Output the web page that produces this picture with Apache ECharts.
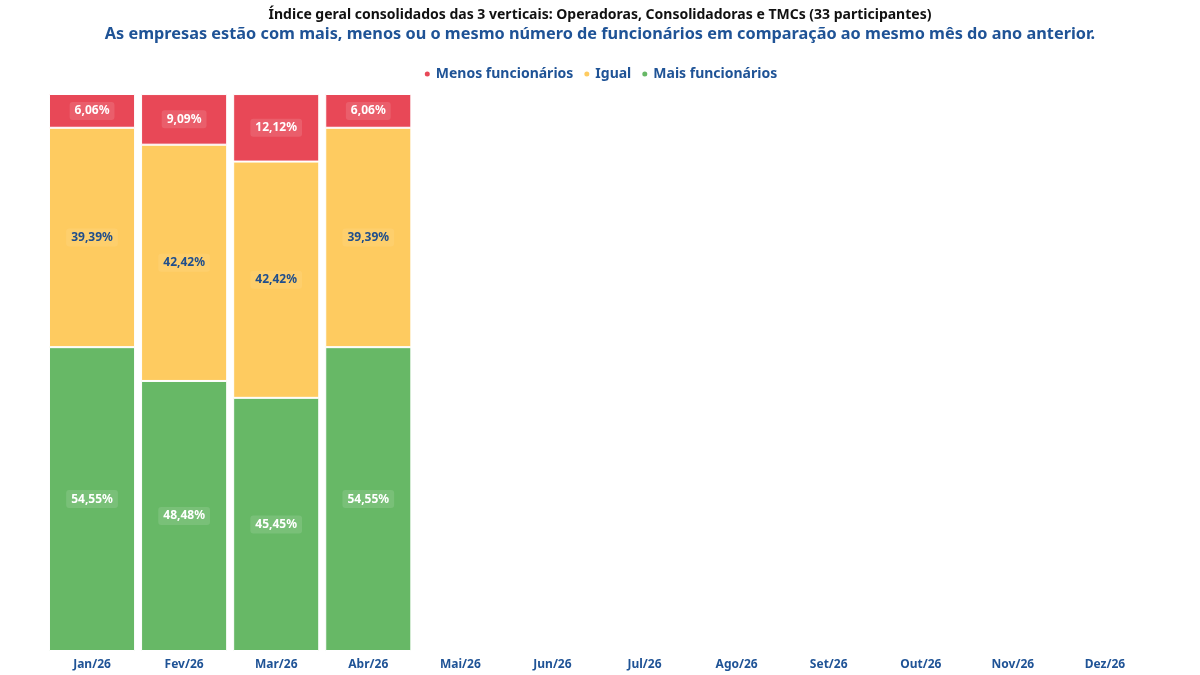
<!DOCTYPE html>
<html lang="pt">
<head>
    <meta charset="UTF-8">
    <title>Índice geral consolidado</title>
    <script src="https://cdn.jsdelivr.net/npm/echarts@6/dist/echarts.min.js"></script>
    <style>
        html, body { margin: 0; padding: 0; background: #fff; }
    </style>
</head>
<body>
    <div id="main" style="width: 1200px;height: 675px"></div>
    <script type="application/javascript">
        // meses
        var meses = ['Jan/26', 'Fev/26', 'Mar/26', 'Abr/26', 'Mai/26', 'Jun/26',
                     'Jul/26', 'Ago/26', 'Set/26', 'Out/26', 'Nov/26', 'Dez/26'];
        // percentuais por resposta
        var maisFuncionarios = [54.55, 48.48, 45.45, 54.55];
        var igual = [39.39, 42.42, 42.42, 39.39];
        var menosFuncionarios = [6.06, 9.09, 12.12, 6.06];

        var azul = '#1f5396';
        var fonte = 'Noto Sans';

        function rotulo(cor, fundo) {
            return {
                show: true,
                position: 'inside',
                color: cor,
                fontFamily: fonte,
                fontWeight: 'bold',
                fontSize: 12,
                backgroundColor: fundo,
                borderRadius: 3,
                padding: [3, 5],
                formatter: function (p) {
                    return p.value.toFixed(2).replace('.', ',') + '%';
                }
            };
        }

        var myChart = echarts.init(document.getElementById('main'));
        var option = {
            animation: false,
            title: [
                {
                    text: 'Índice geral consolidados das 3 verticais: Operadoras, Consolidadoras e TMCs (33 participantes)',
                    left: 'center',
                    top: 3,
                    textStyle: { color: '#111', fontFamily: fonte, fontWeight: 'bold', fontSize: 14 }
                },
                {
                    text: 'As empresas estão com mais, menos ou o mesmo número de funcionários em comparação ao mesmo mês do ano anterior.',
                    left: 'center',
                    top: 21,
                    textStyle: { color: azul, fontFamily: fonte, fontWeight: 'bold', fontSize: 16.3 }
                }
            ],
            legend: {
                data: ['Menos funcionários', 'Igual', 'Mais funcionários'],
                top: 62,
                left: 'center',
                icon: 'circle',
                itemWidth: 7,
                itemHeight: 7,
                itemGap: 9,
                textStyle: { color: azul, fontFamily: fonte, fontWeight: 'bold', fontSize: 14 }
            },
            grid: {
                left: 46,
                right: 49,
                top: 94,
                bottom: 24
            },
            xAxis: {
                type: 'category',
                data: meses,
                axisLine: { show: false },
                axisTick: { show: false },
                axisLabel: { color: azul, fontFamily: fonte, fontWeight: 'bold', fontSize: 12, margin: 8 }
            },
            yAxis: {
                type: 'value',
                min: 0,
                max: 100,
                show: false,
                splitLine: { show: false }
            },
            series: [
                {
                    name: 'Mais funcionários',
                    type: 'bar',
                    stack: 'total',
                    barWidth: '93.5%',
                    data: maisFuncionarios,
                    itemStyle: { color: '#67b866', borderColor: '#fff', borderWidth: 1 },
                    label: rotulo('#fff', 'rgba(255,255,255,0.12)')
                },
                {
                    name: 'Igual',
                    type: 'bar',
                    stack: 'total',
                    data: igual,
                    itemStyle: { color: '#fecb60', borderColor: '#fff', borderWidth: 1 },
                    label: rotulo('#1f4e8c', 'rgba(255,255,255,0.08)')
                },
                {
                    name: 'Menos funcionários',
                    type: 'bar',
                    stack: 'total',
                    data: menosFuncionarios,
                    itemStyle: { color: '#e84857', borderColor: '#fff', borderWidth: 1 },
                    label: rotulo('#fff', 'rgba(255,255,255,0.12)')
                }
            ]
        };
        myChart.setOption(option);
    </script>
</body>
</html>
